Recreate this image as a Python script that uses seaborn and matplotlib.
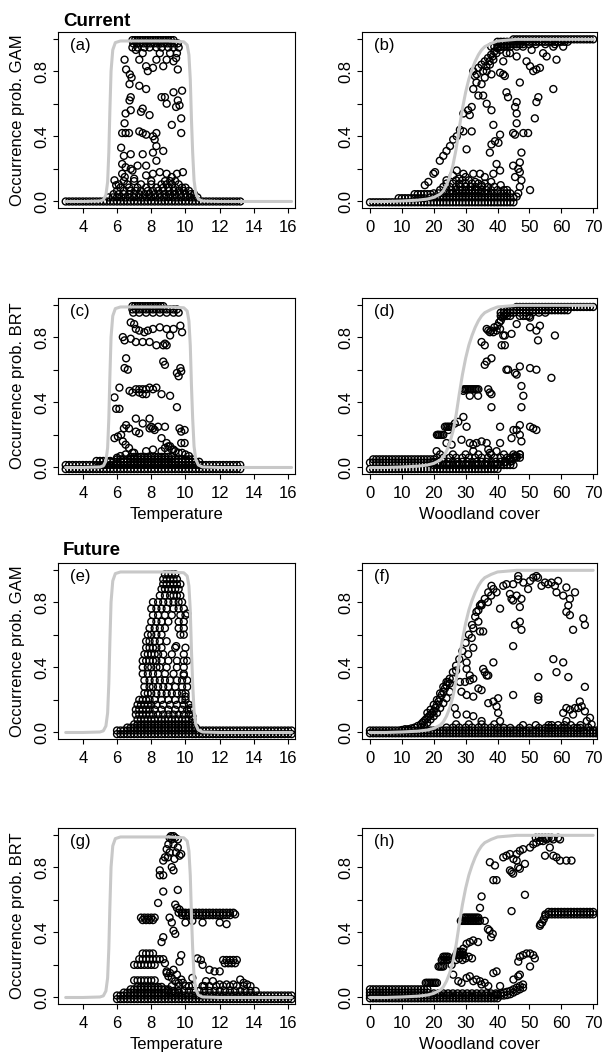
import pandas as pd
import matplotlib
matplotlib.use("Agg")
import matplotlib.pyplot as plt
import seaborn as sns

sns.set_style("ticks")
plt.rcParams["font.family"] = ["Liberation Sans", "DejaVu Sans"]
plt.rcParams["text.color"] = "black"
plt.rcParams["axes.labelcolor"] = "black"
plt.rcParams["xtick.color"] = "black"
plt.rcParams["ytick.color"] = "black"

# --- grids of covariate values ---
temp_now_grid = [3.0, 3.2, 3.4, 3.6, 3.8, 4.0, 4.2, 4.4, 4.6, 4.8, 5.0, 5.2, 5.4, 5.6, 5.8, 6.0, 6.2,
                 6.4, 6.6, 6.8, 7.0, 7.2, 7.4, 7.6, 7.8, 8.0, 8.2, 8.4, 8.6, 8.8, 9.0, 9.2, 9.4, 9.6,
                 9.8, 10.0, 10.2, 10.4, 10.6, 10.8, 11.0, 11.2, 11.4, 11.6, 11.8, 12.0, 12.2, 12.4,
                 12.6, 12.8, 13.0, 13.2]
temp_fut_grid = [6.0, 6.2, 6.4, 6.6, 6.8, 7.0, 7.2, 7.4, 7.6, 7.8, 8.0, 8.2, 8.4, 8.6, 8.8, 9.0, 9.2,
                 9.4, 9.6, 9.8, 10.0, 10.2, 10.4, 10.6, 10.8, 11.0, 11.2, 11.4, 11.6, 11.8, 12.0, 12.2,
                 12.4, 12.6, 12.8, 13.0, 13.2, 13.4, 13.6, 13.8, 14.0, 14.2, 14.4, 14.6, 14.8, 15.0,
                 15.2, 15.4, 15.6, 15.8, 16.0, 16.2]
wood_now_grid = [0, 1, 2, 3, 4, 5, 6, 7, 8, 9, 10, 11, 12, 13, 14, 15, 16, 17, 18, 19, 20, 21, 22,
                 23, 24, 25, 26, 27, 28, 29, 30, 31, 32, 33, 34, 35, 36, 37, 38, 39, 40, 41, 42, 43,
                 44, 45]
wood_fut_grid = [0, 1, 2, 3, 4, 5, 6, 7, 8, 9, 10, 11, 12, 13, 14, 15, 16, 17, 18, 19, 20, 21, 22,
                 23, 24, 25, 26, 27, 28, 29, 30, 31, 32, 33, 34, 35, 36, 37, 38, 39, 40, 41, 42, 43,
                 44, 45, 46, 47, 48, 49, 50, 51, 52, 53, 54, 55, 56, 57, 58, 59, 60, 61, 62, 63, 64,
                 65, 66, 67, 68, 69, 70, 71, 72]

# --- true response curves (grey) ---
temp_curve_x = [3.0, 4.0, 5.0, 5.2, 5.35, 5.45, 5.52, 5.58, 5.65, 5.75, 5.9, 6.2, 7.0, 8.0, 9.0,
                9.9, 10.1, 10.2, 10.28, 10.35, 10.42, 10.5, 10.6, 10.75, 11.0, 12.0, 14.0, 16.2]
temp_curve_y = [0.0, 0.0, 0.003, 0.01, 0.04, 0.12, 0.3, 0.55, 0.8, 0.93, 0.975, 0.985, 0.985,
                0.985, 0.985, 0.98, 0.96, 0.9, 0.75, 0.5, 0.3, 0.13, 0.05, 0.015, 0.003, 0.0, 0.0, 0.0]
wood_curve_x = [0, 5, 10, 15, 18, 20, 22, 23, 24, 25, 26, 27, 28, 29, 30, 31, 32, 33, 34, 35, 36,
                38, 40, 43, 46, 50, 60, 70]
wood_curve_y = [0.0, 0.0, 0.003, 0.008, 0.015, 0.025, 0.045, 0.065, 0.1, 0.15, 0.22, 0.32, 0.45,
                0.57, 0.67, 0.75, 0.81, 0.86, 0.9, 0.93, 0.95, 0.97, 0.985, 0.99, 0.995, 0.995,
                0.995, 0.995]

# --- (a) GAM, current, temperature ---
a_rows = [
    (0.0, temp_now_grid),
    (0.99, [6.9, 7.05, 7.2, 7.35, 7.5, 7.65, 7.8, 7.95, 8.1, 8.25, 8.4, 8.55, 8.7, 8.85, 9.0, 9.15, 9.3]),
    (0.97, [6.95, 7.15, 7.35, 7.55, 7.75, 7.95, 8.15, 8.35, 8.55, 8.75, 8.95, 9.15, 9.35, 9.55]),
    (0.945, [6.9, 7.2, 7.6, 7.9, 8.3, 8.6, 9.0, 9.3, 9.6]),
    (0.025, [5.5, 5.75, 6.0, 6.25, 6.5, 6.75, 7.0, 7.25, 7.5, 7.75, 8.0, 8.25, 8.5, 8.75, 9.0, 9.25,
             9.5, 9.75, 10.0, 10.25, 10.5, 10.7]),
    (0.045, [5.8, 6.1, 6.4, 6.7, 7.0, 7.3, 7.6, 7.9, 8.2, 8.5, 8.8, 9.1, 9.4, 9.7, 10.0, 10.3, 10.5]),
    (0.065, [6.0, 6.4, 6.8, 7.1, 7.4, 7.8, 8.1, 8.4, 8.7, 9.0, 9.3, 9.6, 9.9, 10.2]),
    (0.085, [6.2, 6.7, 7.2, 7.7, 8.3, 8.7, 9.0, 9.4, 9.8, 10.0]),
    (0.105, [6.1, 6.6, 7.4, 8.0, 8.6, 8.9, 9.2, 9.6]),
    (0.125, [6.4, 7.0, 8.0, 8.8, 9.1, 9.4]),
]
a_pts = [(6.44, 0.87), (6.53, 0.81), (6.75, 0.78), (6.85, 0.76), (6.73, 0.72), (6.8, 0.64),
         (6.73, 0.62), (6.5, 0.54), (6.8, 0.56), (6.44, 0.48), (6.3, 0.42), (6.5, 0.42), (6.7, 0.42),
         (6.24, 0.33), (6.4, 0.28), (6.3, 0.23), (6.5, 0.21), (6.3, 0.17), (6.45, 0.15), (5.85, 0.13),
         (5.95, 0.1), (7.1, 0.93), (7.3, 0.87), (7.5, 0.91), (7.7, 0.83), (7.8, 0.8), (8.1, 0.82),
         (8.3, 0.87), (8.5, 0.91), (8.7, 0.83), (8.9, 0.87), (9.1, 0.91), (9.3, 0.86), (9.5, 0.91),
         (9.55, 0.81), (9.45, 0.88), (7.3, 0.71), (7.7, 0.69), (7.5, 0.57), (7.4, 0.55), (7.9, 0.53),
         (8.6, 0.64), (8.8, 0.64), (8.9, 0.6), (9.3, 0.67), (9.8, 0.68), (9.55, 0.62), (9.65, 0.59),
         (9.45, 0.58), (9.75, 0.51), (9.2, 0.47), (9.75, 0.42), (7.3, 0.43), (7.5, 0.42), (7.7, 0.41),
         (8.1, 0.4), (8.2, 0.38), (8.3, 0.34), (8.3, 0.42), (6.8, 0.29), (7.5, 0.29), (8.1, 0.3),
         (8.7, 0.31), (8.3, 0.25), (6.8, 0.2), (7.2, 0.22), (7.7, 0.22), (8.5, 0.18), (8.9, 0.17),
         (9.2, 0.15), (9.5, 0.17), (9.85, 0.18), (7.7, 0.16), (8.1, 0.17), (7.0, 0.14), (6.9, 0.19)]

# --- (b) GAM, current, woodland ---
b_rows = [
    (-0.005, wood_now_grid),
    (0.02, [9, 10, 11, 12, 13, 14, 15, 16, 17]),
    (0.045, [14, 15, 16, 17, 18, 19]),
    (0.025, wood_now_grid[19:]),
    (0.05, [20, 21.5, 23, 24, 25, 26, 27, 28, 29, 30, 31, 32, 33, 34, 35, 36, 37, 38, 39, 40, 41,
            42, 43, 44]),
    (0.07, [22, 24, 25.5, 27, 28, 29, 30, 31, 32, 33, 34, 35, 36.5, 38, 40, 42]),
    (0.09, [23, 25, 27, 28.5, 30, 31.5, 33, 35, 37, 39]),
    (0.11, [24, 26, 28, 30, 32, 34, 36]),
    (0.13, [27, 29, 31]),
    (0.995, [45, 46, 47, 48, 49, 50, 51, 52, 53, 54, 55, 56, 57, 58, 59, 60, 61, 62, 63, 64, 65,
             66, 67, 68, 69, 70]),
    (0.98, [40, 41, 42, 43, 44, 45, 46, 47, 48, 49, 50, 51, 52, 53, 54, 55, 56, 57, 58, 59, 60,
            61, 62]),
    (0.965, [40, 41, 42, 43, 44, 45, 46, 47, 48, 50, 52, 55, 58]),
    (0.95, [38, 39, 40, 41, 42, 43, 44, 46, 48]),
]
b_pts = [(17.2, 0.1), (18.3, 0.12), (19.9, 0.17), (20.4, 0.18), (21.9, 0.25), (23, 0.28), (24, 0.31),
         (25.1, 0.34), (26.1, 0.38), (27.2, 0.4), (28.2, 0.44), (29.3, 0.43), (29.3, 0.54),
         (30.3, 0.32), (30.8, 0.56), (31.3, 0.53), (31.9, 0.58), (31.9, 0.43), (32.4, 0.69),
         (32.4, 0.8), (32.9, 0.77), (33.4, 0.73), (34, 0.65), (35, 0.72), (35.5, 0.65), (36, 0.76),
         (36.6, 0.8), (36.6, 0.6), (37.6, 0.84), (38.1, 0.78), (38.1, 0.56), (38.7, 0.87),
         (39.7, 0.91), (40.8, 0.93), (41.8, 0.86), (42.8, 0.91), (40.8, 0.79), (41.8, 0.78),
         (42.3, 0.77), (42.8, 0.67), (43.3, 0.64), (43.9, 0.91), (46, 0.89), (47, 0.73), (49.1, 0.86),
         (50.2, 0.83), (51.2, 0.8), (52.2, 0.81), (53.3, 0.82), (54.3, 0.91), (55.4, 0.89),
         (50.7, 0.93), (57.5, 0.95), (60.6, 0.95), (58.5, 0.87), (57.5, 0.69), (52.8, 0.64),
         (52.2, 0.61), (51.7, 0.51), (46, 0.61), (45.5, 0.58), (46, 0.54), (44.9, 0.42), (45.5, 0.41),
         (48.1, 0.42), (49.6, 0.42), (46, 0.48), (38.7, 0.47), (38.1, 0.35), (39.2, 0.37),
         (37.6, 0.3), (40.8, 0.41), (40.3, 0.36), (39.7, 0.23), (40.8, 0.19), (38.7, 0.17),
         (36, 0.15), (34.5, 0.17), (32.4, 0.17), (29.3, 0.17), (27.2, 0.19), (47, 0.24), (46.5, 0.2),
         (47, 0.18), (47.5, 0.13), (47, 0.09), (50.2, 0.07), (46.5, 0.05), (46, 0.03), (47.5, 0.3),
         (44.9, 0.22), (45.5, 0.15), (34, 0.82), (35, 0.84), (36, 0.86), (37, 0.88), (38, 0.9),
         (39, 0.92), (40, 0.94), (41, 0.95), (43, 0.96), (35.5, 0.8), (36.5, 0.83), (37.5, 0.86),
         (38.5, 0.89), (33.5, 0.78), (24, 0.13), (26, 0.16), (28, 0.14), (30, 0.15), (33, 0.12),
         (35, 0.1), (38, 0.12), (41, 0.1), (43, 0.07)]

# --- (c) BRT, current, temperature ---
c_rows = [
    (-0.01, temp_now_grid),
    (0.015, temp_now_grid),
    (0.04, [4.8, 5.0, 5.2, 5.4, 5.6]),
    (0.035, temp_now_grid[13:40]),
    (0.05, temp_now_grid[15:38]),
    (0.065, temp_now_grid[19:32]),
    (0.99, [6.9, 7.05, 7.2, 7.35, 7.5, 7.65, 7.8, 7.95, 8.1, 8.25, 8.4, 8.55, 8.7]),
    (0.97, [6.9, 7.1, 7.3, 7.5, 7.7, 7.9, 8.1, 8.3, 8.5, 8.7, 8.9, 9.1, 9.3, 9.5]),
    (0.95, [6.95, 7.3, 7.7, 8.1, 8.5, 8.9, 9.3, 9.6]),
]
c_pts = [(6.34, 0.8), (6.44, 0.78), (6.8, 0.79), (6.53, 0.67), (6.44, 0.61), (6.63, 0.6),
         (6.14, 0.49), (5.85, 0.43), (6.14, 0.36), (6.73, 0.47), (6.9, 0.46), (7.1, 0.48), (7.3, 0.48),
         (7.5, 0.48), (7.7, 0.48), (7.9, 0.49), (8.1, 0.48), (8.3, 0.49), (8.6, 0.45), (9.1, 0.44),
         (7.3, 0.46), (7.5, 0.45), (7.7, 0.45), (7.1, 0.77), (7.5, 0.77), (7.9, 0.77), (8.3, 0.75),
         (8.7, 0.75), (8.8, 0.76), (8.9, 0.75), (7.1, 0.85), (7.3, 0.84), (7.6, 0.83), (7.8, 0.84),
         (8.1, 0.85), (8.5, 0.86), (8.9, 0.85), (9.1, 0.81), (9.3, 0.85), (9.8, 0.83), (9.7, 0.87),
         (7.0, 0.88), (6.8, 0.89), (8.7, 0.65), (8.8, 0.63), (9.7, 0.61), (9.5, 0.58), (9.6, 0.56),
         (9.75, 0.59), (9.5, 0.37), (5.95, 0.36), (7.1, 0.3), (7.5, 0.27), (7.9, 0.3), (8.1, 0.24),
         (8.2, 0.23), (8.4, 0.25), (8.8, 0.25), (6.53, 0.26), (6.4, 0.24), (6.7, 0.24), (7.1, 0.22),
         (7.3, 0.21), (6.24, 0.2), (6.05, 0.19), (5.85, 0.18), (6.34, 0.16), (6.5, 0.14), (6.7, 0.12),
         (6.9, 0.09), (7.7, 0.1), (8.1, 0.11), (8.6, 0.18), (8.9, 0.15), (9.1, 0.13), (9.3, 0.11),
         (9.65, 0.24), (9.75, 0.22), (9.95, 0.23), (9.75, 0.15), (9.95, 0.15), (8.8, 0.12),
         (9.0, 0.13), (9.2, 0.11), (9.4, 0.1), (9.6, 0.09), (9.8, 0.09), (10.0, 0.08), (10.2, 0.07),
         (8.6, 0.1), (7.0, 0.09), (6.5, 0.08), (6.2, 0.07), (6.0, 0.06), (7.9, 0.24), (8.0, 0.25)]

# --- (d) BRT, current, woodland ---
d_rows = [
    (-0.01, wood_now_grid[:41]),
    (0.03, wood_now_grid[:21]),
    (0.05, wood_now_grid[1:21]),
    (0.015, wood_now_grid[20:]),
    (0.035, [20, 21.5, 23, 24.5, 26, 27.5, 29, 30.5, 32, 33.5, 35, 36.5, 38, 39.5, 41, 42.5, 44]),
    (0.06, [21, 23, 25, 27, 29, 31, 33, 35, 37, 39, 41, 43, 44, 45, 46, 47]),
    (0.08, [22, 26, 30, 34, 38, 42, 45, 47]),
    (0.2, [21, 21.5, 22, 22.5, 23]),
    (0.25, [23.5, 24, 24.5, 25, 25.5]),
    (0.48, [29.5, 30, 30.5, 31, 31.5, 32, 32.5, 33, 33.5, 34]),
    (0.985, [46, 47, 48, 49, 50, 51, 52, 53, 54, 55, 56, 57, 58, 59, 60, 61, 62, 63, 64, 65, 66,
             67, 68, 69, 70]),
    (0.965, [42, 43, 44, 45, 46, 47, 48, 49, 50, 51, 52, 53, 54, 55, 56, 57, 58, 59, 60, 61, 62]),
    (0.95, [41, 42, 43, 44, 45, 47, 49, 51, 53, 55]),
    (0.93, [41, 42, 43, 44, 47, 50]),
]
d_pts = [(20.9, 0.1), (21.4, 0.2), (24.6, 0.23), (24, 0.15), (25.6, 0.14), (26.6, 0.27),
         (27.7, 0.28), (29.3, 0.31), (30.3, 0.25), (28.7, 0.17), (31.3, 0.15), (32.4, 0.14),
         (33.4, 0.15), (35, 0.16), (36.6, 0.15), (37.1, 0.11), (32.4, 0.1), (29.3, 0.47),
         (31.3, 0.44), (33.9, 0.44), (37.1, 0.48), (37.6, 0.46), (38.1, 0.45), (38.1, 0.37),
         (35, 0.77), (36, 0.75), (36.6, 0.65), (36, 0.63), (38.1, 0.67), (36.6, 0.85), (37.1, 0.84),
         (37.6, 0.83), (38.7, 0.83), (39.7, 0.84), (40.8, 0.85), (41.3, 0.75), (42.3, 0.75),
         (42.3, 0.81), (41.8, 0.81), (44.4, 0.82), (42.8, 0.6), (43.3, 0.6), (45.5, 0.58), (46, 0.57),
         (47, 0.62), (47.5, 0.5), (48.1, 0.44), (47.5, 0.37), (50.2, 0.61), (52.2, 0.6), (50.2, 0.86),
         (52.2, 0.84), (52.7, 0.78), (53.3, 0.87), (58, 0.81), (56.9, 0.55), (48.1, 0.93),
         (49.1, 0.93), (50.2, 0.92), (46, 0.88), (40.8, 0.25), (47, 0.26), (46, 0.23), (45, 0.23),
         (44.4, 0.18), (47, 0.2), (47.5, 0.16), (50.2, 0.25), (51.2, 0.24), (52.2, 0.23),
         (40.8, 0.15), (39.7, 0.1), (37.6, 0.09), (40, 0.87), (40.5, 0.89), (41, 0.9), (41.5, 0.92),
         (42, 0.93), (42.5, 0.94), (43, 0.95), (39, 0.86), (38, 0.84), (40, 0.02), (42, 0.03),
         (44, 0.05), (45, 0.06), (46, 0.07), (47, 0.08), (44.5, 0.04), (45.5, 0.07)]

# --- (e) GAM, future, temperature ---
e_rows = [
    (-0.01, temp_fut_grid),
    (0.012, temp_fut_grid),
    (0.03, temp_fut_grid[3:24]),
    (0.05, temp_fut_grid[5:23]),
    (0.08, temp_fut_grid[6:23]),
    (0.11, [7.1, 7.3, 7.5, 7.7, 7.9, 8.1, 8.4, 8.7, 9.0, 9.3, 9.6, 9.9, 10.2]),
    (0.14, [7.1, 7.3, 7.5, 7.7, 7.9, 8.2, 8.6, 9.0, 9.4, 9.8, 10.1, 10.3]),
    (0.17, [7.2, 7.4, 7.6, 7.8, 8.0, 8.3, 8.7, 9.1, 9.5, 9.9, 10.2]),
    (0.20, [7.3, 7.5, 7.7, 7.9, 8.2, 8.6, 9.0, 9.4, 9.8, 10.0]),
    (0.24, [7.6, 7.8, 8.0, 8.3, 8.6, 8.9, 9.2, 9.5, 9.8, 10.0]),
    (0.28, [7.6, 7.9, 8.1, 8.4, 8.7, 9.0, 9.4, 9.8, 10.1]),
    (0.32, [7.6, 7.9, 8.2, 8.5, 8.8, 9.1, 9.5, 9.8, 10.1]),
    (0.36, [7.5, 7.8, 8.1, 8.4, 8.8, 9.3, 9.9]),
    (0.40, [7.5, 7.8, 8.0, 8.3, 8.5, 8.9, 9.5, 9.9]),
    (0.44, [7.5, 7.7, 7.9, 8.1, 8.3, 8.6, 9.0, 9.5, 9.9, 10.1]),
    (0.48, [7.6, 7.8, 8.0, 8.2, 8.4, 8.7, 9.2, 9.9]),
    (0.52, [7.7, 7.9, 8.1, 8.3, 8.6, 9.4, 10.0]),
    (0.56, [7.7, 7.9, 8.2, 8.5, 8.9]),
    (0.60, [7.8, 8.0, 8.3, 8.6, 9.7, 9.9]),
    (0.64, [7.9, 8.2, 8.5, 8.8, 9.6, 9.9]),
    (0.68, [8.0, 8.3, 8.6, 9.0, 9.6, 9.9]),
    (0.72, [8.1, 8.4, 8.8, 9.2, 9.7, 10.0]),
    (0.76, [8.0, 8.3, 8.6, 8.9, 9.3, 9.6, 9.9]),
    (0.80, [8.1, 8.4, 8.7, 9.0, 9.3, 9.6, 9.8]),
    (0.84, [8.5, 8.8, 9.1, 9.3, 9.5, 9.7]),
    (0.88, [8.6, 8.8, 9.0, 9.2, 9.4, 9.6]),
    (0.91, [8.7, 8.9, 9.1, 9.3, 9.5, 9.7]),
    (0.94, [8.7, 8.9, 9.1, 9.3, 9.5]),
    (0.97, [8.8, 9.0, 9.2, 9.4]),
]
e_pts = [(9.46, 0.53), (10.1, 0.73), (9.9, 0.35), (10.0, 0.22), (10.3, 0.15), (10.4, 0.1)]

# --- (f) GAM, future, woodland ---
f_rows = [
    (-0.005, wood_fut_grid),
    (0.012, wood_fut_grid),
    (0.028, [40, 42, 44, 47, 50, 53, 55, 56, 57, 58, 60, 61, 62, 64, 65, 66]),
    (0.045, [48, 52, 56, 57, 59, 61, 63, 66]),
    (0.03, [24, 26, 28, 30, 32, 34, 36, 38]),
    (0.05, [27, 31, 35, 39]),
]
f_pts = [(10, 0.015), (11, 0.02), (12, 0.02), (13, 0.025), (14, 0.03), (15, 0.04), (16, 0.05),
         (16.5, 0.06), (17, 0.07), (17.5, 0.08), (18, 0.09), (18.5, 0.1), (19, 0.11), (19.5, 0.12),
         (20, 0.13), (20.5, 0.15), (21, 0.17), (21.5, 0.19), (22, 0.21), (22.5, 0.23), (23, 0.25),
         (23.5, 0.27), (24, 0.29), (24.5, 0.31), (25, 0.33), (26, 0.37), (27, 0.41), (28, 0.45),
         (29, 0.5), (30, 0.55), (31, 0.6), (32, 0.66), (33, 0.71), (34, 0.75), (35, 0.78),
         (16, 0.03), (17, 0.04), (18, 0.06), (19, 0.08), (20, 0.1), (21, 0.12), (22, 0.15),
         (23, 0.18), (24, 0.21), (25, 0.25), (18, 0.12), (19, 0.14), (20, 0.17), (21, 0.2),
         (22, 0.24), (23, 0.28), (24, 0.31), (25, 0.3), (26, 0.33), (27, 0.38), (33.4, 0.74),
         (34, 0.68), (34.5, 0.78), (35, 0.79), (34.5, 0.62), (35.5, 0.62), (32.4, 0.64), (31.9, 0.58),
         (32.4, 0.52), (30.8, 0.48), (30.3, 0.43), (30.3, 0.39), (31.3, 0.35), (29.8, 0.31),
         (31.3, 0.32), (32.4, 0.33), (28.2, 0.31), (28.7, 0.25), (30.3, 0.23), (32.4, 0.22),
         (34, 0.27), (35, 0.26), (36, 0.37), (36.6, 0.35), (37.1, 0.35), (38.7, 0.43), (35.5, 0.39),
         (26.6, 0.15), (27.2, 0.11), (30.3, 0.11), (32.4, 0.1), (35, 0.07), (37.1, 0.18),
         (38.7, 0.19), (40.2, 0.21), (39.7, 0.16), (40.2, 0.12), (40.8, 0.07), (37.1, 0.86),
         (38.1, 0.9), (38.7, 0.88), (39.7, 0.86), (40.8, 0.76), (41.8, 0.9), (42.8, 0.91),
         (43.9, 0.85), (44.4, 0.82), (44.9, 0.81), (46, 0.84), (47, 0.77), (47.5, 0.82), (45.5, 0.66),
         (47, 0.68), (47.5, 0.63), (44.9, 0.53), (44.9, 0.23), (44.9, 0.91), (46.5, 0.94),
         (46.5, 0.96), (48.1, 0.92), (49.6, 0.88), (50.2, 0.93), (51.2, 0.95), (52.2, 0.96),
         (52.7, 0.95), (53.8, 0.9), (54.9, 0.92), (55.9, 0.91), (56.9, 0.92), (58, 0.9), (59, 0.93),
         (58.5, 0.86), (60.6, 0.84), (61.6, 0.89), (62.7, 0.82), (62.2, 0.78), (61.6, 0.74),
         (62.7, 0.72), (64.3, 0.86), (63.7, 0.63), (66.9, 0.7), (67.4, 0.66), (57.5, 0.45),
         (60.6, 0.43), (58.5, 0.37), (62.2, 0.34), (52.8, 0.34), (52.8, 0.22), (52.8, 0.2),
         (67.4, 0.28), (60.6, 0.12), (61.6, 0.15), (62.7, 0.14), (64.3, 0.15), (65.3, 0.15),
         (66.4, 0.16), (65.8, 0.19), (67.4, 0.13), (68, 0.07), (69, 0.09), (68.5, 0.03), (69.5, 0.05),
         (61.6, 0.07), (63.7, 0.11), (36, 0.82), (37, 0.8), (38, 0.84)]

# --- (g) BRT, future, temperature ---
g_rows = [
    (-0.01, temp_fut_grid),
    (0.012, temp_fut_grid),
    (0.03, temp_fut_grid[2:19]),
    (0.05, temp_fut_grid[4:16]),
    (0.065, [7.2, 7.4, 7.6, 7.8, 8.0, 8.2, 8.4, 8.6]),
    (0.105, [7.0, 7.2, 7.4, 7.6, 7.8, 8.0, 8.2]),
    (0.2, [7.0, 7.2, 7.4, 7.6, 7.8, 8.0, 8.2]),
    (0.235, [7.3, 7.5, 7.7, 7.9, 8.1, 8.3, 8.5, 8.7]),
    (0.27, [7.5, 7.7, 7.9, 8.1]),
    (0.49, [7.4, 7.6, 7.8, 8.0, 8.2]),
    (0.475, [7.5, 7.7, 7.9, 8.1]),
    (0.52, temp_fut_grid[18:35]),
    (0.505, temp_fut_grid[19:34]),
    (0.04, [9.0, 9.3, 9.6, 9.9, 10.2, 10.5, 10.8, 11.1, 11.4, 11.7, 12.0, 12.3, 12.6, 12.9, 13.2,
            13.5, 13.8, 14.1]),
    (0.07, [9.2, 9.6, 10.0, 10.4, 11.0, 11.4, 11.8, 12.2, 12.6, 13.0, 13.4, 13.8]),
    (0.23, [12.2, 12.4, 12.6, 12.8, 13.0]),
    (0.21, [12.3, 12.5, 12.7, 12.9]),
]
g_pts = [(8.5, 0.78), (8.7, 0.84), (8.8, 0.86), (8.9, 0.91), (8.97, 0.86), (9.07, 0.89), (9.2, 0.8),
         (9.3, 0.78), (9.35, 0.85), (9.45, 0.89), (9.55, 0.92), (9.65, 0.87), (9.75, 0.88),
         (9.07, 0.98), (9.2, 0.97), (9.4, 0.98), (9.55, 0.97), (9.0, 0.94), (9.3, 0.94), (9.15, 0.99),
         (9.3, 0.99), (8.5, 0.75), (8.7, 0.75), (8.7, 0.65), (9.55, 0.66), (8.4, 0.58), (9.4, 0.57),
         (9.5, 0.55), (9.65, 0.54), (9.85, 0.52), (9.07, 0.49), (9.2, 0.46), (9.3, 0.41), (9.4, 0.39),
         (8.7, 0.37), (8.6, 0.34), (10.0, 0.46), (10.4, 0.47), (11.0, 0.46), (12.0, 0.46),
         (12.4, 0.45), (12.9, 0.51), (9.65, 0.22), (9.75, 0.26), (10.7, 0.24), (10.9, 0.23),
         (11.0, 0.2), (11.4, 0.17), (11.7, 0.16), (12.0, 0.16), (11.2, 0.1), (11.6, 0.1), (11.1, 0.07),
         (12.0, 0.08), (12.4, 0.08), (12.8, 0.08), (13.2, 0.11), (13.4, 0.09), (13.6, 0.08),
         (10.4, 0.12), (10.2, 0.07), (9.75, 0.11), (9.85, 0.09), (9.3, 0.17), (9.1, 0.15),
         (8.9, 0.16), (8.8, 0.21), (9.5, 0.14), (8.9, 0.15), (9.0, 0.13), (9.2, 0.12), (9.4, 0.1),
         (9.6, 0.09)]

# --- (h) BRT, future, woodland ---
h_rows = [
    (-0.005, wood_fut_grid[:41]),
    (0.012, wood_fut_grid[:43]),
    (0.03, wood_fut_grid[:19]),
    (0.05, wood_fut_grid[:19]),
    (0.025, [20, 21.5, 23, 24.5, 26, 27.5, 29, 30.5, 32, 33.5, 35, 36.5, 38, 39.5]),
    (0.09, [17.5, 18, 18.5, 19, 19.5, 20, 20.5, 21]),
    (0.19, [21.5, 22, 22.5, 23]),
    (0.23, [22.5, 23, 23.5, 24, 24.5]),
    (0.25, [23, 23.5, 24, 24.5]),
    (0.26, [27, 27.5, 28, 28.5, 29, 29.5]),
    (0.28, [27.5, 28, 28.5, 29]),
    (0.47, [28.5, 29, 29.5, 30, 30.5, 31, 31.5, 32, 32.5, 33, 33.5, 34, 34.5]),
    (0.49, [29.5, 30, 30.5, 31, 31.5, 32, 32.5, 33, 33.5, 34]),
    (0.51, wood_fut_grid[55:71]),
    (0.525, wood_fut_grid[56:71]),
]
h_pts = [(40, 0.02), (41, 0.025), (42, 0.03), (43, 0.035), (44, 0.04), (45, 0.05), (46, 0.06),
         (47, 0.07), (48, 0.08), (43, 0.015), (44, 0.02), (45, 0.03), (46, 0.04), (47, 0.05),
         (48, 0.06), (53.5, 0.45), (54, 0.46), (54.5, 0.48), (55, 0.5), (53.3, 0.44), (36, 0.47),
         (37, 0.42), (37.5, 0.41), (38, 0.37), (38.5, 0.39), (29.3, 0.3), (30.3, 0.33), (31.3, 0.34),
         (32.4, 0.35), (33.9, 0.34), (37.6, 0.83), (39.2, 0.81), (38.7, 0.72), (39.7, 0.72),
         (35, 0.62), (34.5, 0.55), (41.8, 0.86), (42.8, 0.87), (43.9, 0.88), (43.9, 0.78),
         (44.4, 0.77), (44.9, 0.76), (46, 0.88), (47, 0.9), (48, 0.91), (48.6, 0.82), (50.2, 0.92),
         (51.2, 0.94), (52.2, 0.95), (53.3, 0.96), (54.3, 0.96), (55.4, 0.97), (57.5, 0.97),
         (59.6, 0.97), (56.4, 0.92), (54.9, 0.87), (57.5, 0.87), (58.5, 0.86), (59.6, 0.84),
         (61.6, 0.84), (63.2, 0.84), (44.4, 0.53), (48.6, 0.63), (46, 0.84), (45, 0.85), (46.5, 0.8),
         (47, 0.79), (52, 0.98), (53, 0.98), (54, 0.98), (55, 0.98), (56, 0.98), (57, 0.98),
         (59, 0.98), (46.5, 0.22), (47, 0.25), (48, 0.26), (49.1, 0.27), (50.2, 0.27), (51.2, 0.26),
         (51.7, 0.24), (50.2, 0.19), (46.5, 0.13), (47, 0.14), (45, 0.11), (26.1, 0.14), (27.7, 0.1),
         (28.7, 0.09), (30.3, 0.12), (31.3, 0.13), (32.4, 0.1), (33.4, 0.11), (34.5, 0.1), (35, 0.08),
         (36, 0.09), (37.1, 0.07), (38.7, 0.15), (39.7, 0.16), (40.8, 0.07), (25.6, 0.2), (27, 0.23),
         (28, 0.24), (29, 0.23), (30, 0.24), (31, 0.25), (32, 0.24)]


def to_frame(rows, pts):
    xs, ys = [], []
    for yv, xrow in rows:
        xs += list(xrow)
        ys += [yv] * len(xrow)
    for xv, yv in pts:
        xs.append(xv)
        ys.append(yv)
    return pd.DataFrame({"x": xs, "y": ys})


fig = plt.figure(figsize=(6.03, 10.56), dpi=100)
W, H = 603.0, 1056.0
col_left = {0: (58, 237), 1: (362, 235)}
row_top = [32, 298, 563, 828]
ax_h = 176

panels = [
    ("(a)", a_rows, a_pts, 0, 0, "temp", "Occurrence prob. GAM", ""),
    ("(b)", b_rows, b_pts, 0, 1, "wood", "", ""),
    ("(c)", c_rows, c_pts, 1, 0, "temp", "Occurrence prob. BRT", "Temperature"),
    ("(d)", d_rows, d_pts, 1, 1, "wood", "", "Woodland cover"),
    ("(e)", e_rows, e_pts, 2, 0, "temp", "Occurrence prob. GAM", ""),
    ("(f)", f_rows, f_pts, 2, 1, "wood", "", ""),
    ("(g)", g_rows, g_pts, 3, 0, "temp", "Occurrence prob. BRT", "Temperature"),
    ("(h)", h_rows, h_pts, 3, 1, "wood", "", "Woodland cover"),
]

for tag, rows, pts, r, c, var, ylab, xlab in panels:
    x0, w = col_left[c]
    ax = fig.add_axes([x0 / W, 1 - (row_top[r] + ax_h) / H, w / W, ax_h / H])
    df = to_frame(rows, pts)
    sns.scatterplot(data=df, x="x", y="y", ax=ax, s=25, facecolors="none",
                    edgecolor="black", linewidth=1.0, legend=False, zorder=2)
    if var == "temp":
        sns.lineplot(x=temp_curve_x, y=temp_curve_y, ax=ax, color="#c8c8c8",
                     linewidth=2.2, sort=False, estimator=None, zorder=3)
        ax.set_xlim(2.55, 16.4)
        ax.set_xticks([4, 6, 8, 10, 12, 14, 16])
    else:
        sns.lineplot(x=wood_curve_x, y=wood_curve_y, ax=ax, color="#c8c8c8",
                     linewidth=2.2, sort=False, estimator=None, zorder=3)
        ax.set_xlim(-2.5, 71.2)
        ax.set_xticks([0, 10, 20, 30, 40, 50, 60, 70])
    ax.set_ylim(-0.04, 1.04)
    ax.set_yticks([0.0, 0.2, 0.4, 0.6, 0.8, 1.0])
    ax.set_yticklabels(["0.0", "", "0.4", "", "0.8", ""])
    ax.tick_params(axis="both", length=3.8, width=0.8, labelsize=12, color="black",
                   labelcolor="black")
    ax.tick_params(axis="x", pad=4.5)
    ax.tick_params(axis="y", pad=2.5, labelrotation=90)
    for lab in ax.get_yticklabels():
        lab.set_va("center")
    for sp in ax.spines.values():
        sp.set_visible(True)
        sp.set_linewidth(0.8)
        sp.set_color("black")
    ax.set_xlabel(xlab, fontsize=12, color="black")
    ax.set_ylabel(ylab, fontsize=12, color="black")
    ax.xaxis.set_label_coords(0.5, -0.185)
    ax.yaxis.set_label_coords(-0.14, 0.5)
    ax.text(0.05, 0.965, tag, transform=ax.transAxes, fontsize=12, va="top", ha="left",
            color="black")

fig.text(63 / W, 1 - 26 / H, "Current", fontsize=13.5, fontweight="bold", va="baseline",
         color="black")
fig.text(63 / W, 1 - 555 / H, "Future", fontsize=13.5, fontweight="bold", va="baseline",
         color="black")

fig.savefig("out.png", dpi=100)
